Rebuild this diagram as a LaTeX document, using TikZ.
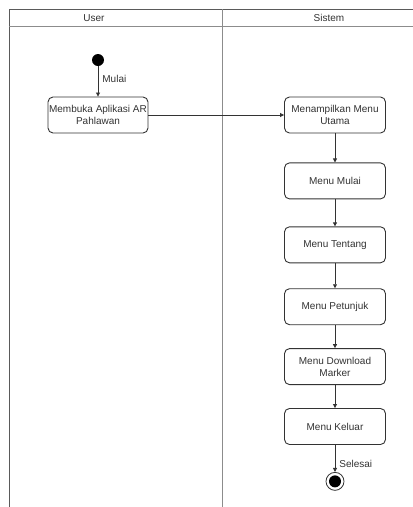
\documentclass[tikz,border=0pt]{standalone}
\usepackage{fontspec}
\setmainfont{Liberation Sans}
\usetikzlibrary{positioning,arrows.meta}
\definecolor{ink}{HTML}{333333}
\definecolor{lane}{HTML}{5A5A5A}
\definecolor{laneline}{HTML}{8C8C8C}

\begin{document}
\begin{tikzpicture}[x=1pt, y=-1pt,
      act/.style={draw=ink, line width=0.9pt, fill=white, rounded corners=5pt, align=center, minimum width=101pt,
                  minimum height=36pt, inner sep=0pt, text=ink, font=\fontsize{10}{11.7}\selectfont},
      lbl/.style={text=ink, font=\fontsize{10}{12}\selectfont, inner sep=1pt},
      arr/.style={-{Triangle[length=4pt, width=4pt]}, ink, line width=0.8pt}]
    \useasboundingbox (0,0) rectangle (413,507);
    % lanes
    \draw[lane, line width=0.9pt] (9,507) -- (9,9) -- (413,9);
    \draw[laneline, line width=0.9pt] (9,26) -- (413,26);
    \draw[laneline, line width=0.9pt] (222,9) -- (222,507);
    \node[lbl] (user) at (94,18) {User};
    \node[lbl] (sistem) at (329,18) {Sistem};
    % activities
    \node[circle, fill=black, minimum size=12pt, inner sep=0pt] (start) at (98,60) {};
    \node[act, minimum width=100pt] (a) at (98,115) {Membuka Aplikasi AR\\Pahlawan};
    \node[act] (b) at (335,115) {Menampilkan Menu\\Utama};
    \node[act, below=29pt of b] (c) {Menu Mulai};
    \node[act, below=27pt of c] (d) {Menu Tentang};
    \node[act, below=25pt of d] (e) {Menu Petunjuk};
    \node[act, below=23pt of e] (f) {Menu Download\\Marker};
    \node[act, below=23pt of f] (g) {Menu Keluar};
    \node[circle, draw=ink, line width=0.8pt, minimum size=18pt, inner sep=0pt, below=27pt of g] (stop) {};
    \node[circle, fill=black, minimum size=12pt, inner sep=0pt] (stopdot) at (stop.center) {};
    \draw[arr] (start) -- node[lbl, right=3pt, pos=0.42] (mulai) {Mulai} (a);
    \draw[arr] (a) -- (b);
    \draw[arr] (b) -- (c); \draw[arr] (c) -- (d); \draw[arr] (d) -- (e);
    \draw[arr] (e) -- (f); \draw[arr] (f) -- (g);
    \draw[arr] (g) -- node[lbl, right=3pt, pos=0.7] (selesai) {Selesai} (stop);
  \end{tikzpicture}
\end{document}
